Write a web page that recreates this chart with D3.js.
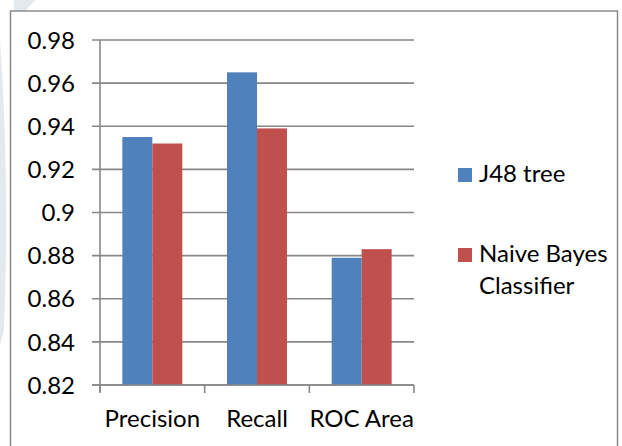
<!DOCTYPE html>
<html>
<head>
<meta charset="utf-8">
<script src="https://cdn.jsdelivr.net/npm/d3@7"></script>
<style>
  body { margin: 0; background: #fff; }
  svg text { font-family: Lato, 'Open Sans', sans-serif; fill: #000; }
</style>
</head>
<body>
<div id="chart"></div>
<script>
const w = 622;
const h = 446;

// data
const categories = ['Precision', 'Recall', 'ROC Area'];
const seriesNames = ['J48 tree', 'Naive Bayes Classifier'];
const j48 = [0.935, 0.965, 0.879];
const naiveBayes = [0.932, 0.939, 0.883];
const yTicks = [0.82, 0.84, 0.86, 0.88, 0.9, 0.92, 0.94, 0.96, 0.98];
const colors = ['#4F81BD', '#C0504D'];

const plot = {left: 100, right: 414, top: 40, bottom: 385};
const fontSize = '24px';

const svg = d3.select('#chart')
              .append('svg')
              .attr('width', w)
              .attr('height', h);

// faint page watermark behind the chart frame
svg.append('path')
   .attr('d', 'M14,0 L36,0 Q28,6 26,12 L14,12 Z M0,40 Q10,180 4,330 L0,345 Z')
   .attr('fill', '#e3e9ec');

// chart frame
svg.append('rect')
   .attr('x', 10.5)
   .attr('y', 11)
   .attr('width', 607)
   .attr('height', 480)
   .attr('fill', '#fff')
   .attr('stroke', '#8a8a8a')
   .attr('stroke-width', 1.5);

const xScale = d3.scaleBand()
                 .domain(categories)
                 .range([plot.left, plot.right])
                 .paddingInner(0.427)
                 .paddingOuter(0.2135);

const xSub = d3.scaleBand()
               .domain([0, 1])
               .range([0, xScale.bandwidth()]);

const yScale = d3.scaleLinear()
                 .domain([0.82, 0.98])
                 .range([plot.bottom, plot.top]);

// gridlines + left tick marks
svg.append('g')
   .selectAll('line')
   .data(yTicks)
   .enter()
   .append('line')
   .attr('x1', plot.left - 8)
   .attr('x2', plot.right)
   .attr('y1', (d) => yScale(d))
   .attr('y2', (d) => yScale(d))
   .attr('stroke', '#878787')
   .attr('stroke-width', 1.6);

// y axis line
svg.append('line')
   .attr('x1', plot.left)
   .attr('x2', plot.left)
   .attr('y1', plot.top)
   .attr('y2', plot.bottom + 7)
   .attr('stroke', '#878787')
   .attr('stroke-width', 1.6);

// y labels
svg.append('g')
   .selectAll('text')
   .data(yTicks)
   .enter()
   .append('text')
   .attr('x', 75)
   .attr('y', (d) => yScale(d))
   .attr('dy', '0.36em')
   .attr('text-anchor', 'end')
   .style('font-size', fontSize)
   .text((d) => d === 0.9 ? '0.9' : d3.format('.2f')(d));

// bars
const series = [j48, naiveBayes];
series.forEach(function (vals, si) {
  svg.append('g')
     .selectAll('rect')
     .data(categories)
     .enter()
     .append('rect')
     .attr('x', (c) => xScale(c) + xSub(si))
     .attr('width', xSub.bandwidth())
     .attr('y', (c, i) => yScale(vals[i]))
     .attr('height', (c, i) => plot.bottom - yScale(vals[i]))
     .attr('fill', colors[si]);
});

// x axis
const xAxis = svg.append('g')
   .attr('transform', 'translate(0,' + plot.bottom + ')')
   .call(d3.axisBottom(xScale).tickSize(0).tickPadding(25))
   .call((g) => g.select('.domain').remove());

xAxis.selectAll('text')
     .style('font-size', fontSize)
     .attr('fill', '#000');

const boundaries = [plot.left].concat(categories.map((c) => xScale(c) + xScale.bandwidth() + xScale.step() * xScale.paddingInner() / 2));
boundaries[boundaries.length - 1] = plot.right;

svg.append('line')
   .attr('x1', plot.left - 8)
   .attr('x2', plot.right)
   .attr('y1', plot.bottom)
   .attr('y2', plot.bottom)
   .attr('stroke', '#878787')
   .attr('stroke-width', 1.6);

svg.append('g')
   .selectAll('line')
   .data(boundaries)
   .enter()
   .append('line')
   .attr('x1', (d) => d)
   .attr('x2', (d) => d)
   .attr('y1', plot.bottom)
   .attr('y2', plot.bottom + 8)
   .attr('stroke', '#878787')
   .attr('stroke-width', 1.6);

// legend
const legendRows = [
  {lines: ['J48 tree'], y: 182},
  {lines: ['Naive Bayes', 'Classifier'], y: 262}
];

legendRows.forEach(function (row, i) {
  svg.append('rect')
     .attr('x', 458)
     .attr('y', row.y - 14)
     .attr('width', 14)
     .attr('height', 14)
     .attr('fill', colors[i]);
  row.lines.forEach(function (t, j) {
    svg.append('text')
       .attr('x', 479)
       .attr('y', row.y + j * 32)
       .style('font-size', fontSize)
       .text(t);
  });
});
</script>
</body>
</html>
